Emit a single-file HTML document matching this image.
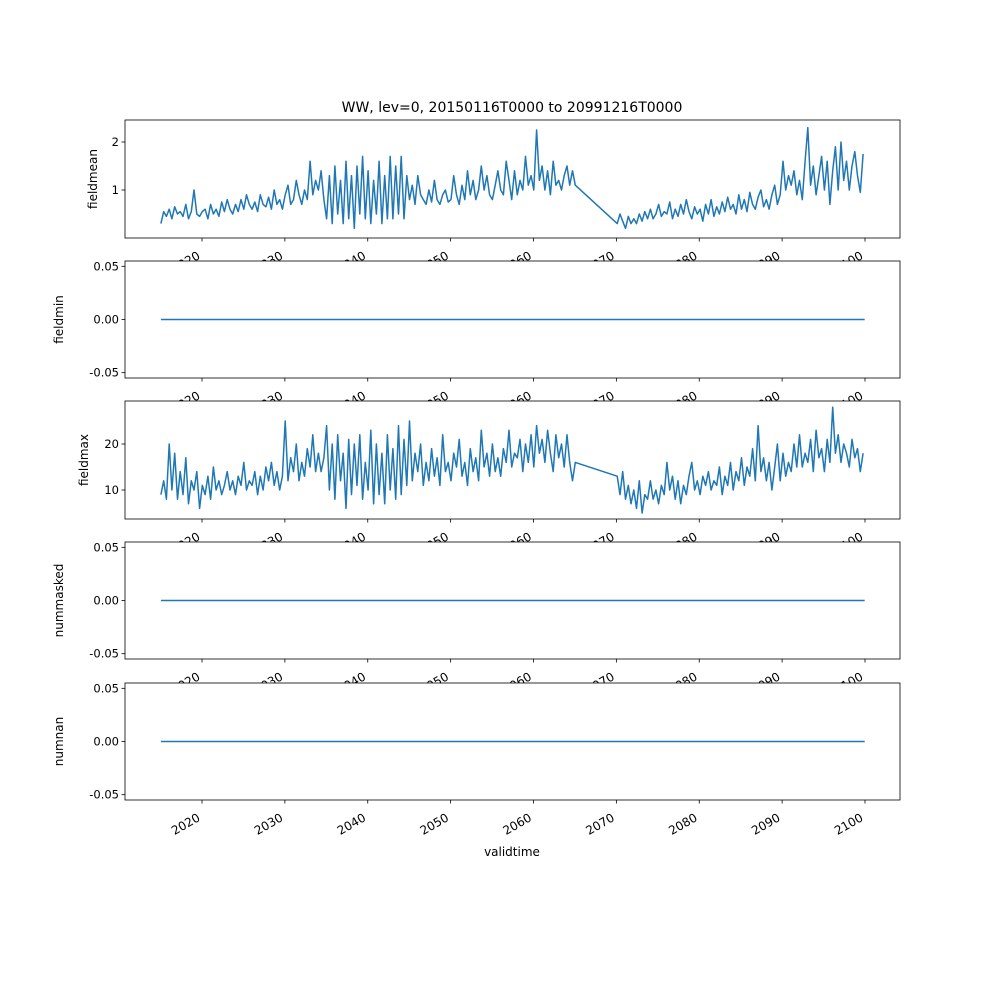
<!DOCTYPE html>
<html><head><meta charset="utf-8"><style>
html,body{margin:0;padding:0;background:#fff}
svg{display:block;font-family:"DejaVu Sans","Liberation Sans",sans-serif}
</style></head><body>
<svg id="fig" width="1000" height="1000" xmlns="http://www.w3.org/2000/svg">
<rect width="1000" height="1000" fill="#fff"/>
<text x="512" y="112" font-size="14" text-anchor="middle">WW, lev=0, 20150116T0000 to 20991216T0000</text>
<text x="512" y="856" font-size="12" text-anchor="middle">validtime</text>
</svg>
<script>
const xTicks = [2020,2030,2040,2050,2060,2070,2080,2090,2100];
const seg1Start = 2015.04, seg2Start = 2070.1, step = 1/3;
const meanSeg1 = [0.3,0.55,0.45,0.6,0.4,0.65,0.5,0.55,0.45,0.7,0.4,0.55,1.0,0.5,0.45,0.55,0.6,0.4,0.7,0.5,0.6,0.45,0.75,0.55,0.8,0.6,0.5,0.7,0.55,0.8,0.6,0.9,0.7,0.6,0.75,0.55,0.9,0.7,0.65,0.85,0.6,1.0,0.7,0.8,0.6,0.9,1.1,0.7,0.8,1.2,0.9,0.7,1.0,0.8,1.6,0.9,1.2,1.0,1.4,0.8,0.4,1.3,0.3,1.5,0.5,1.2,0.3,1.6,0.4,1.3,0.2,1.5,0.5,1.7,0.4,1.4,0.3,1.2,0.5,1.6,0.3,1.3,0.4,1.7,0.4,1.5,0.5,1.7,0.4,1.3,0.8,1.1,0.7,1.3,0.9,0.8,0.7,1.0,0.75,1.2,0.8,0.7,0.9,1.0,0.75,0.8,1.3,0.9,0.7,1.1,0.8,1.4,0.9,1.2,0.8,1.0,1.5,1.0,1.3,0.9,0.8,1.1,1.4,1.0,0.9,1.6,1.2,0.8,1.4,0.9,1.2,1.0,1.7,1.1,1.3,1.0,2.25,1.2,1.5,1.0,1.4,0.9,1.6,1.1,1.2,1.0,1.3,1.5,1.1,1.4,1.1];
const meanSeg2 = [0.3,0.5,0.35,0.2,0.45,0.3,0.4,0.3,0.5,0.35,0.55,0.4,0.6,0.4,0.5,0.7,0.45,0.55,0.5,0.75,0.4,0.6,0.45,0.7,0.5,0.8,0.55,0.4,0.65,0.5,0.6,0.35,0.7,0.5,0.8,0.45,0.65,0.5,0.75,0.55,0.85,0.6,0.7,0.5,0.9,0.6,0.8,0.55,0.95,0.7,0.6,0.85,1.0,0.65,0.8,0.6,0.9,1.1,0.7,0.9,1.6,1.0,1.3,1.1,1.4,0.9,1.2,0.8,1.6,2.3,1.1,1.5,0.9,1.3,1.7,1.0,1.6,0.7,1.4,1.9,1.0,2.0,1.2,1.6,1.0,1.5,1.8,1.3,0.95,1.75];
const maxSeg1 = [9,12,8,20,10,18,8,14,9,17,7,12,10,14,6,11,9,13,8,15,10,12,9,11,14,10,12,9,13,11,16,10,12,11,14,9,13,10,15,12,16,11,14,10,13,25,12,17,14,20,12,16,13,19,15,22,14,18,14,17,24,10,20,8,22,12,18,6,21,9,20,11,22,8,16,10,23,7,20,9,18,7,22,10,19,8,24,9,21,11,25,12,18,14,20,11,16,12,19,13,17,11,22,14,16,12,18,15,21,13,16,11,19,14,17,12,23,15,18,13,20,14,17,13,19,16,23,15,18,17,21,14,20,16,22,15,24,18,21,16,23,18,14,22,17,20,15,22,16,12,16];
const maxSeg2 = [13,9,14,8,11,7,10,6,12,5,9,8,12,8,10,7,11,9,16,10,13,8,12,7,11,9,13,16,10,12,9,13,11,14,10,12,11,15,9,13,11,16,10,14,12,17,11,15,13,19,12,24,14,17,12,16,10,15,20,12,18,13,16,14,20,15,22,15,18,16,21,14,23,17,19,14,21,16,28,18,22,16,20,18,15,21,17,19,14,18];
const zeroStart = 2015.04, zeroEnd = 2099.96, zeroValue = 0;

const NS = "http://www.w3.org/2000/svg";
const fig = document.getElementById('fig');
const X0 = 125, X1 = 900;
function xScale(t){ return 202 + (t - 2020) * (865 - 202) / 80; }
function mk(tag, attrs, parent){ const e = document.createElementNS(NS, tag); for (const k in attrs) e.setAttribute(k, attrs[k]); (parent||fig).appendChild(e); return e; }

const panels = [
  {name:'fieldmean', top:120, bot:238, ymin:0.0, ymax:2.4583, ticks:[1,2], fmt:v=>String(v), labx:97, segs:[[seg1Start,meanSeg1],[seg2Start,meanSeg2]]},
  {name:'fieldmin', top:261, bot:378, ymin:-0.055, ymax:0.055, ticks:[-0.05,0,0.05], fmt:v=>v.toFixed(2), labx:63, zero:true},
  {name:'fieldmax', top:401, bot:519, ymin:3.7, ymax:29.35, ticks:[10,20], fmt:v=>String(v), labx:88, segs:[[seg1Start,maxSeg1],[seg2Start,maxSeg2]]},
  {name:'nummasked', top:542, bot:659, ymin:-0.055, ymax:0.055, ticks:[-0.05,0,0.05], fmt:v=>v.toFixed(2), labx:63, zero:true},
  {name:'numnan', top:683, bot:800, ymin:-0.055, ymax:0.055, ticks:[-0.05,0,0.05], fmt:v=>v.toFixed(2), labx:63, zero:true}
];

panels.forEach(p => {
  const g = mk('g', {});
  
  
  const ys = v => p.bot - (v - p.ymin) / (p.ymax - p.ymin) * (p.bot - p.top);
  mk('rect', {x:X0, y:p.top, width:X1-X0, height:p.bot-p.top, fill:'#fff'}, g);
  let d = '';
  if (p.zero) {
    d = 'M' + xScale(zeroStart) + ',' + ys(zeroValue) + 'L' + xScale(zeroEnd) + ',' + ys(zeroValue);
  } else {
    const pts = [];
    p.segs.forEach(([s, arr]) => arr.forEach((v, i) => pts.push([xScale(s + i * step), ys(v)])));
    d = 'M' + pts.map(q => q[0].toFixed(1) + ',' + q[1].toFixed(1)).join('L');
  }
  const line = mk('path', {d:d, fill:'none', stroke:'#1f77b4', 'stroke-width':1.5, 'stroke-linejoin':'round'}, g);
  
  
  mk('rect', {x:X0, y:p.top, width:X1-X0, height:p.bot-p.top, fill:'none', stroke:'#000', 'stroke-width':0.8}, g);
  p.ticks.forEach(v => {
    const y = ys(v);
    mk('line', {x1:X0-3.5, x2:X0, y1:y, y2:y, stroke:'#000', 'stroke-width':0.8}, g);
    const t = mk('text', {x:X0-6, y:y+4, 'font-size':11.5, 'text-anchor':'end'}, g);
    t.textContent = p.fmt(v);
    
    
  });
  xTicks.forEach(v => {
    const x = xScale(v);
    mk('line', {x1:x, x2:x, y1:p.bot, y2:p.bot+3.5, stroke:'#000', 'stroke-width':0.8}, g);
    const ax = x - 1, ay = p.bot + 20;
    const t = mk('text', {x:ax, y:ay, 'font-size':12, 'text-anchor':'end', transform:'rotate(-30 '+ax+' '+ay+')'}, g);
    t.textContent = String(v);
    
    
  });
  const cy = (p.top + p.bot) / 2;
  const yl = mk('text', {x:p.labx, y:cy, 'font-size':12, 'text-anchor':'middle', transform:'rotate(-90 '+p.labx+' '+cy+')'}, g);
  yl.textContent = p.name;
  
  
});
</script>
</body></html>
